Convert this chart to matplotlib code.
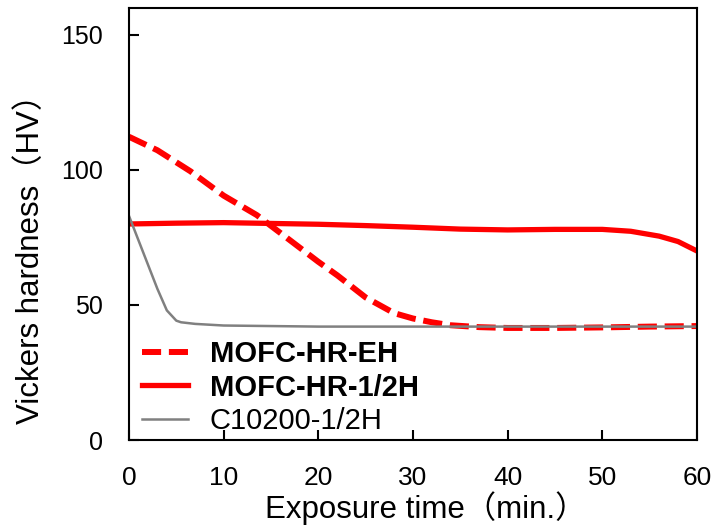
import matplotlib
matplotlib.use('Agg')
import matplotlib.pyplot as plt

# data
t_eh = [0, 3, 6.5, 10, 13.5, 17, 20, 22, 25, 28, 30, 32, 34, 37, 40, 45, 50, 55, 60]
hv_eh = [112.3, 107.3, 99.5, 90.5, 83.3, 74, 66, 61, 52.8, 47, 45, 43.6, 42.5, 41.8, 41.5, 41.5, 41.7, 42, 42.2]

t_half = [0, 5, 10, 15, 20, 25, 30, 35, 40, 45, 50, 53, 56, 58, 60]
hv_half = [80, 80.3, 80.5, 80.2, 79.9, 79.4, 78.8, 78.1, 77.8, 78, 78, 77.3, 75.5, 73.5, 70]

t_c10200 = [0, 1, 2, 3, 4, 5, 5.5, 7, 10, 20, 30, 40, 50, 60]
hv_c10200 = [83, 74, 65, 56, 48, 44.2, 43.6, 43, 42.4, 42, 42, 42, 42, 42]

labels = ['MOFC-HR-EH', 'MOFC-HR-1/2H', 'C10200-1/2H']
xticks = [0, 10, 20, 30, 40, 50, 60]
yticks = [0, 50, 100, 150]

fam = ['Liberation Sans', 'Noto Sans CJK JP', 'DejaVu Sans']
plt.rcParams['font.family'] = fam

fig = plt.figure(figsize=(7.27, 5.29), dpi=100)
ax = fig.add_axes([0.1774, 0.1682, 0.7813, 0.8168])

ax.plot(t_eh, hv_eh, color='#ff0000', lw=4.3, ls=(0, (3.2, 1.3)), label=labels[0])
ax.plot(t_half, hv_half, color='#ff0000', lw=3.8, label=labels[1])
ax.plot(t_c10200, hv_c10200, color='#808080', lw=1.8, label=labels[2])

ax.set_xlim(0, 60)
ax.set_ylim(0, 160)
ax.set_xticks(xticks)
ax.set_yticks(yticks)
ax.tick_params(direction='in', length=7, width=1.5, top=False, right=False)
ax.tick_params(axis='y', labelsize=18, pad=18.5)
ax.tick_params(axis='x', labelsize=19, pad=19)

for s in ax.spines.values():
    s.set_linewidth(1.5)
    s.set_color('black')

ax.set_xlabel('Exposure time（min.）', fontsize=22.5)
ax.set_ylabel('Vickers hardness（HV）', fontsize=22.5)
ax.xaxis.set_label_coords(0.523, -0.118)
ax.yaxis.set_label_coords(-0.146, 0.437)

leg = ax.legend(loc='lower left', bbox_to_anchor=(0.023, 0.012), frameon=False,
                fontsize=21, handlelength=1.58, handletextpad=0.75,
                labelspacing=0.18, borderpad=0, borderaxespad=0)
for i, txt in enumerate(leg.get_texts()):
    if i < 2:
        txt.set_fontweight('bold')

fig.savefig('out.png', dpi=100)
